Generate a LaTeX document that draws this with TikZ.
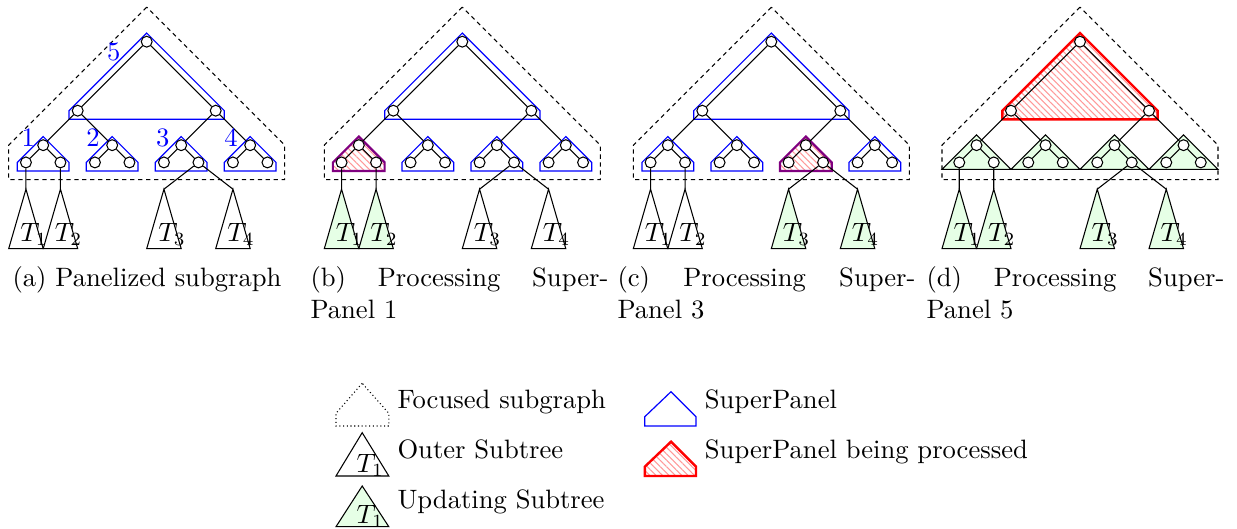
\documentclass[tikz,border=0pt]{standalone}
\usetikzlibrary{patterns.meta}
\definecolor{panelblue}{RGB}{0,0,255}
\definecolor{procred}{RGB}{255,0,0}
\definecolor{procpurple}{RGB}{128,0,128}
\definecolor{updgreen}{RGB}{230,255,230}
\tikzset{
  vtx/.style={circle, draw, fill=white, minimum size=4.1pt, inner sep=0pt, line width=0.4pt},
  edge/.style={line width=0.4pt},
  focus/.style={dash pattern=on 1.6pt off 1.4pt, line width=0.4pt},
  spanel/.style={draw=panelblue, line width=0.45pt},
  hatch/.style={pattern={Lines[angle=-45,distance=1.7pt,line width=0.4pt]}, pattern color=red!40},
  procpanel/.style={hatch, draw=procpurple, line width=0.8pt},
  rootproc/.style={hatch, draw=procred, line width=0.9pt},
  subtree/.style={draw, line width=0.4pt},
  updtree/.style={draw, fill=updgreen, line width=0.4pt},
  tlabel/.style={font=\fontsize{10}{12}\selectfont, inner sep=0pt, anchor=base west},
  numlabel/.style={text=panelblue, inner sep=0pt, font=\fontsize{10}{12}\selectfont},
  caption/.style={inner sep=0pt, font=\fontsize{10}{12}\selectfont},
}
\newcommand{\FocusOutline}{\draw[focus] (0,-2) -- (-8,6) -- (-8,8) -- (8,8) -- (8,6) -- cycle;}
\newcommand{\RootPanel}[1]{\draw[#1] (0,-0.5) -- (-4.5,4) -- (-4.5,4.5) -- (4.5,4.5) -- (4.5,4) -- cycle;}
\newcommand{\SmallPanel}[2]{\draw[#2] (#1,5.5) -- ++(-1.5,1.5) -- ++(0,0.5) -- ++(3,0) -- ++(0,-0.5) -- cycle;}
\newcommand{\GreenTri}[1]{\draw[updtree] (#1,5.4) -- ++(-2,2) -- ++(4,0) -- cycle;}
\newcommand{\Subtrees}[5]{%
  \coordinate (#1t1) at (-7,8.55);
  \coordinate (#1t2) at (-5,8.55);
  \coordinate (#1t3) at (1,8.55);
  \coordinate (#1t4) at (5,8.55);
  \draw[#2] (#1t1) -- ++(-1,3.45) -- ++(2,0) -- cycle;
  \draw[#3] (#1t2) -- ++(-1,3.45) -- ++(2,0) -- cycle;
  \draw[#4] (#1t3) -- ++(-1,3.45) -- ++(2,0) -- cycle;
  \draw[#5] (#1t4) -- ++(-1,3.45) -- ++(2,0) -- cycle;
  \node[tlabel] at ([shift={(-0.36,3.04)}]#1t1) {$T_1$};
  \node[tlabel] at ([shift={(-0.36,3.04)}]#1t2) {$T_2$};
  \node[tlabel] at ([shift={(-0.36,3.04)}]#1t3) {$T_3$};
  \node[tlabel] at ([shift={(-0.36,3.04)}]#1t4) {$T_4$};
}
\newcommand{\PTree}[1]{%
  \node[vtx] (#1r) at (0,0) {};
  \node[vtx] (#1a) at (-4,4) {};
  \node[vtx] (#1b) at (4,4) {};
  \node[vtx] (#1c1) at (-6,6) {};
  \node[vtx] (#1c2) at (-2,6) {};
  \node[vtx] (#1c3) at (2,6) {};
  \node[vtx] (#1c4) at (6,6) {};
  \node[vtx] (#1l1) at (-7,7) {};
  \node[vtx] (#1l2) at (-5,7) {};
  \node[vtx] (#1l3) at (-3,7) {};
  \node[vtx] (#1l4) at (-1,7) {};
  \node[vtx] (#1l5) at (1,7) {};
  \node[vtx] (#1l6) at (3,7) {};
  \node[vtx] (#1l7) at (5,7) {};
  \node[vtx] (#1l8) at (7,7) {};
  \draw[edge] (#1r) -- (#1a) (#1r) -- (#1b)
    (#1a) -- (#1c1) (#1a) -- (#1c2) (#1b) -- (#1c3) (#1b) -- (#1c4)
    (#1c1) -- (#1l1) (#1c1) -- (#1l2) (#1c2) -- (#1l3) (#1c2) -- (#1l4)
    (#1c3) -- (#1l5) (#1c3) -- (#1l6) (#1c4) -- (#1l7) (#1c4) -- (#1l8)
    (#1l1) -- (#1t1) (#1l2) -- (#1t2) (#1l6) -- (#1t3) (#1l6) -- (#1t4);
}
\begin{document}
\begin{tikzpicture}[x=0.376pt,y=-0.376pt]
\useasboundingbox (0,0) rectangle (1237,529);

% (a)
\begin{scope}[shift={({146.7*0.376pt},{-41.7*0.376pt})},x=6.486pt,y=-6.486pt]
  \FocusOutline
  \RootPanel{spanel}
  \SmallPanel{-6}{spanel}\SmallPanel{-2}{spanel}\SmallPanel{2}{spanel}\SmallPanel{6}{spanel}
  \Subtrees{pa}{subtree}{subtree}{subtree}{subtree}
  \PTree{pa}
\end{scope}
\node[numlabel] (n5) at (113.7,51.7) {5};
\node[numlabel] (n1) at (28.3,137.5) {1};
\node[numlabel] (n2) at (93,137.5) {2};
\node[numlabel] (n3) at (162.7,137.5) {3};
\node[numlabel] (n4) at (231,137.5) {4};

% (b)
\begin{scope}[shift={({462.3*0.376pt},{-41.7*0.376pt})},x=6.486pt,y=-6.486pt]
  \FocusOutline
  \RootPanel{spanel}
  \SmallPanel{-6}{procpanel}\SmallPanel{-2}{spanel}\SmallPanel{2}{spanel}\SmallPanel{6}{spanel}
  \Subtrees{pb}{updtree}{updtree}{subtree}{subtree}
  \PTree{pb}
\end{scope}

% (c)
\begin{scope}[shift={({771.3*0.376pt},{-41.7*0.376pt})},x=6.486pt,y=-6.486pt]
  \FocusOutline
  \RootPanel{spanel}
  \SmallPanel{-6}{spanel}\SmallPanel{-2}{spanel}\SmallPanel{2}{procpanel}\SmallPanel{6}{spanel}
  \Subtrees{pc}{subtree}{subtree}{updtree}{updtree}
  \PTree{pc}
\end{scope}

% (d)
\begin{scope}[shift={({1080*0.376pt},{-41.7*0.376pt})},x=6.486pt,y=-6.486pt]
  \FocusOutline
  \RootPanel{rootproc}
  \GreenTri{-6}\GreenTri{-2}\GreenTri{2}\GreenTri{6}
  \Subtrees{pd}{updtree}{updtree}{updtree}{updtree}
  \PTree{pd}
\end{scope}

% captions
\node[caption, anchor=base] (capa) at (147,287) {(a) Panelized subgraph};
\node[caption, anchor=base west] (capb) at (310,287) {\makebox[112pt][s]{(b) Processing Super-}};
\node[caption, anchor=base west] (capb2) at (310,319) {Panel 1};
\node[caption, anchor=base west] (capc) at (617,287) {\makebox[112pt][s]{(c) Processing Super-}};
\node[caption, anchor=base west] (capc2) at (617,319) {Panel 3};
\node[caption, anchor=base west] (capd) at (926,287) {\makebox[112pt][s]{(d) Processing Super-}};
\node[caption, anchor=base west] (capd2) at (926,319) {Panel 5};

% legend
\draw[densely dotted, line width=0.4pt] (362.2,383.3) -- (336,413.3) -- (336,426) -- (388.8,426) -- (388.8,413.3) -- cycle;
\node[caption, anchor=base west] (lg1) at (397,408.3) {Focused subgraph};
\draw[subtree] (362.2,432.7) -- (336,476) -- (388.8,476) -- cycle;
\node[tlabel] (lt1) at (356,473) {$T_1$};
\node[caption, anchor=base west] (lg2) at (397,458.5) {Outer Subtree};
\draw[updtree] (362.2,486) -- (336,526.7) -- (388.8,526.7) -- cycle;
\node[tlabel] (lt2) at (356,523.5) {$T_1$};
\node[caption, anchor=base west] (lg3) at (397,508.3) {Updating Subtree};
\draw[spanel] (671,391.7) -- (644.8,416.7) -- (644.8,426) -- (696,426) -- (696,416.7) -- cycle;
\node[caption, anchor=base west] (lg4) at (704.4,408.3) {SuperPanel};
\draw[rootproc] (671,441.7) -- (644.8,466.7) -- (644.8,476) -- (696,476) -- (696,466.7) -- cycle;
\node[caption, anchor=base west] (lg5) at (704.4,458.5) {SuperPanel being processed};
\end{tikzpicture}
\end{document}
